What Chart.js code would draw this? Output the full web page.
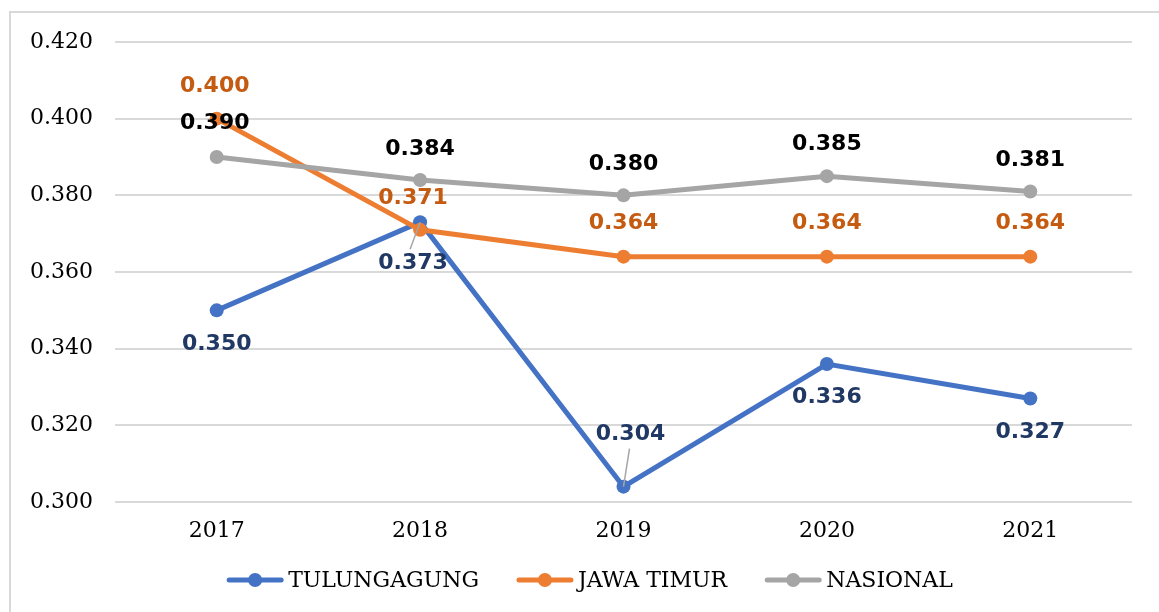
<!DOCTYPE html>
<html>
<head>
<meta charset="utf-8">
<script src="https://cdn.jsdelivr.net/npm/chart.js@4/dist/chart.umd.min.js"></script>
<style>
  html, body { margin: 0; padding: 0; background: #fff; }
  #wrap { position: relative; width: 1159px; height: 612px; overflow: hidden; }
  #frame { position: absolute; left: 9px; top: 11px; width: 1200px; height: 700px; border: 2px solid #d9d9d9; box-sizing: border-box; }
  canvas { position: absolute; left: 0; top: 0; }
</style>
</head>
<body>
<div id="wrap">
  <div id="frame"></div>
  <canvas id="chart" width="1159" height="612"></canvas>
</div>
<script>
// --- Datos ---
const years = ['2017', '2018', '2019', '2020', '2021'];
const tulungagung = [0.350, 0.373, 0.304, 0.336, 0.327];
const jawaTimur = [0.400, 0.371, 0.364, 0.364, 0.364];
const nasional = [0.390, 0.384, 0.380, 0.385, 0.381];
const yTicks = [0.300, 0.320, 0.340, 0.360, 0.380, 0.400, 0.420];

// posición de las etiquetas (dx, dy relativos al punto)
const labelPos = {
    0: [[0, 34], [-7, 41], [7, -52], [0, 33], [0, 34]],
    1: [[-2, -32], [-7, -32], [0, -33], [0, -33], [0, -33]],
    2: [[-2, -34], [0, -31], [0, -31], [0, -32], [0, -31]]
};
// etiquetas con línea guía
const leaders = { 0: [1, 2] };

const labelPlugin = {
    id: 'valueLabels',
    afterDatasetsDraw(chart) {
        const ctx = chart.ctx;
        ctx.save();
        ctx.font = 'bold 22px "DejaVu Sans"';
        ctx.textAlign = 'center';
        ctx.textBaseline = 'middle';
        chart.data.datasets.forEach((ds, i) => {
            const meta = chart.getDatasetMeta(i);
            meta.data.forEach((pt, j) => {
                const [dx, dy] = labelPos[i][j];
                const x = pt.x + dx, y = pt.y + dy;
                if (leaders[i] && leaders[i].includes(j)) {
                    ctx.strokeStyle = '#a6a6a6';
                    ctx.lineWidth = 1.5;
                    ctx.beginPath();
                    ctx.moveTo(pt.x, pt.y);
                    const ey = dy > 0 ? y - 14 : y + 14;
                    ctx.lineTo(x + (dy > 0 ? -3 : -1), ey);
                    ctx.stroke();
                }
                ctx.fillStyle = ds.labelColor;
                ctx.fillText(ds.data[j].toFixed(3), x, y);
            });
        });
        ctx.restore();
    },
    afterDraw(chart) {
        // leyenda propia: línea + punto + texto, centrada
        const ctx = chart.ctx;
        const lineW = 56, textGap = 5, itemGap = 38, cy = 580;
        ctx.save();
        ctx.font = '22px "DejaVu Serif"';
        ctx.textBaseline = 'middle';
        const items = chart.data.datasets.map(ds => ({
            ds, w: lineW + textGap + ctx.measureText(ds.label).width
        }));
        const total = items.reduce((s, it) => s + it.w, 0) + itemGap * (items.length - 1);
        let x = 590 - total / 2;
        items.forEach(({ ds, w }) => {
            ctx.strokeStyle = ds.borderColor;
            ctx.lineWidth = 5;
            ctx.lineCap = 'round';
            ctx.beginPath();
            ctx.moveTo(x + 2, cy);
            ctx.lineTo(x + lineW - 2, cy);
            ctx.stroke();
            ctx.fillStyle = ds.borderColor;
            ctx.beginPath();
            ctx.arc(x + lineW / 2, cy, 7, 0, Math.PI * 2);
            ctx.fill();
            ctx.fillStyle = '#000';
            ctx.fillText(ds.label, x + lineW + textGap, cy + 1);
            x += w + itemGap;
        });
        ctx.restore();
    }
};

const ctx = document.getElementById('chart').getContext('2d');
new Chart(ctx, {
    type: 'line',
    data: {
        labels: years,
        datasets: [
            { label: 'TULUNGAGUNG', data: tulungagung, borderColor: '#4472c4', backgroundColor: '#4472c4', labelColor: '#203864', order: 3 },
            { label: 'JAWA TIMUR', data: jawaTimur, borderColor: '#ed7d31', backgroundColor: '#ed7d31', labelColor: '#c55a11', order: 2 },
            { label: 'NASIONAL', data: nasional, borderColor: '#a5a5a5', backgroundColor: '#a5a5a5', labelColor: '#000000', order: 1 }
        ]
    },
    options: {
        responsive: false,
        animation: false,
        layout: { padding: { top: 42, right: 27, left: 0, bottom: 61 } },
        elements: {
            line: { borderWidth: 5, tension: 0 },
            point: { radius: 7, borderWidth: 0, hoverRadius: 7 }
        },
        scales: {
            x: {
                offset: true,
                afterFit(scale) { scale.height = 49; },
                grid: { display: false },
                border: { display: false },
                ticks: { color: '#000', font: { family: '"DejaVu Serif"', size: 22 }, padding: 8 }
            },
            y: {
                min: 0.300,
                max: 0.420,
                afterFit(scale) { scale.width = 115; },
                afterBuildTicks(scale) { scale.ticks = yTicks.map(v => ({ value: v })); },
                grid: { color: '#d9d9d9', lineWidth: 2, drawTicks: false },
                border: { display: false },
                ticks: {
                    color: '#000',
                    padding: 22,
                    font: { family: '"DejaVu Serif"', size: 22 },
                    callback: v => v.toFixed(3)
                }
            }
        },
        plugins: {
            legend: { display: false },
            tooltip: { enabled: false }
        }
    },
    plugins: [labelPlugin]
});
</script>
</body>
</html>
